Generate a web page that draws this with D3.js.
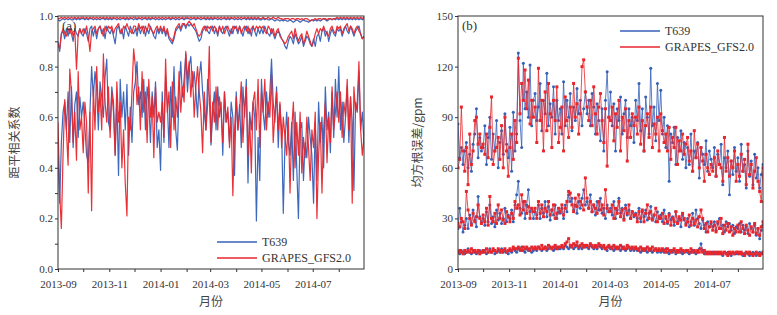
<!DOCTYPE html>
<html>
<head>
<meta charset="utf-8">
<script src="https://cdn.jsdelivr.net/npm/d3@7"></script>
<style>
  body { margin: 0; background: #fff; }
</style>
</head>
<body>
<svg id="chart" width="777" height="315"></svg>
<script>
// one sample every 2 days starting 2013-09-01 (one line per month)
const startDate = new Date(2013, 8, 1)
const stepDays = 2

// (a) anomaly correlation, three levels
const acTopT639 = [
  .985,.98,.985,.99,.985,.99,.985,.99,.985,.985,.99,.985,.99,.985,.99,
  .99,.985,.99,.985,.99,.99,.985,.99,.985,.99,.985,.99,.99,.985,.99,.985,
  .99,.985,.99,.99,.985,.99,.985,.99,.99,.985,.99,.985,.99,.99,.985,
  .99,.985,.99,.99,.985,.99,.99,.985,.99,.985,.99,.99,.985,.99,.985,
  .99,.985,.99,.985,.99,.99,.985,.99,.99,.985,.99,.985,.99,.99,.985,.99,
  .99,.99,.985,.99,.99,.985,.99,.99,.985,.99,.99,.985,.99,.985,
  .99,.985,.99,.99,.985,.99,.985,.99,.99,.985,.99,.985,.99,.99,.985,
  .99,.985,.99,.985,.99,.99,.985,.99,.985,.99,.985,.99,.985,.99,.985,
  .985,.99,.985,.99,.985,.985,.99,.985,.98,.985,.985,.98,.985,.98,.985,.98,
  .98,.985,.98,.975,.98,.985,.98,.975,.98,.985,.98,.98,.975,.98,.985,
  .98,.985,.98,.985,.98,.985,.99,.985,.98,.985,.99,.985,.99,.985,.99,
  .985,.99,.985,.99,.985,.99,.985,.99,.985,.99,.985,.99,.985,.99,.985,.99
]
const acTopGrapes = [
  .99,.99,.995,.99,.995,.99,.995,.99,.995,.99,.995,.99,.995,.99,.995,
  .995,.99,.995,.99,.995,.99,.995,.99,.995,.99,.995,.99,.995,.99,.995,.99,
  .995,.99,.995,.99,.995,.99,.995,.99,.995,.99,.995,.99,.995,.99,.995,
  .995,.99,.995,.99,.995,.99,.995,.99,.995,.99,.995,.99,.995,.99,.995,
  .99,.995,.99,.995,.99,.995,.99,.995,.99,.995,.99,.995,.99,.995,.99,.995,
  .995,.99,.995,.99,.995,.99,.995,.99,.995,.99,.995,.99,.995,.99,
  .995,.99,.995,.99,.995,.99,.995,.99,.995,.99,.995,.99,.995,.99,.995,
  .99,.995,.99,.995,.99,.995,.99,.995,.99,.995,.99,.995,.99,.995,.99,
  .99,.995,.99,.99,.995,.99,.99,.995,.99,.99,.995,.99,.99,.985,.99,.99,
  .99,.985,.99,.99,.985,.99,.99,.985,.99,.985,.99,.99,.985,.98,.985,
  .985,.99,.985,.99,.99,.985,.99,.99,.985,.99,.99,.985,.99,.99,.995,
  .99,.995,.99,.995,.99,.995,.99,.995,.99,.995,.99,.995,.99,.995,.99,.995
]
const acMidT639 = [
  .90,.86,.93,.94,.91,.95,.92,.95,.93,.90,.95,.93,.92,.95,.93,
  .92,.95,.93,.90,.95,.96,.92,.95,.91,.95,.96,.93,.95,.91,.96,.94,
  .93,.95,.92,.89,.95,.96,.93,.95,.91,.96,.94,.92,.96,.94,.93,
  .95,.92,.96,.93,.95,.96,.92,.95,.93,.96,.94,.92,.91,.95,.93,
  .95,.93,.95,.92,.94,.91,.90,.89,.91,.94,.95,.96,.94,.96,.97,.95,
  .97,.96,.97,.96,.95,.94,.92,.90,.91,.94,.95,.96,.94,.93,
  .95,.96,.93,.95,.92,.96,.94,.93,.95,.96,.94,.92,.95,.93,.96,
  .95,.93,.96,.94,.92,.95,.96,.93,.95,.92,.96,.94,.92,.95,.93,
  .95,.93,.96,.94,.93,.92,.95,.93,.91,.93,.94,.93,.91,.90,.88,.87,
  .90,.92,.91,.89,.93,.91,.89,.90,.92,.88,.90,.92,.91,.89,.88,
  .91,.88,.92,.93,.90,.94,.95,.92,.94,.90,.93,.95,.93,.92,.95,
  .94,.95,.92,.94,.96,.94,.93,.96,.94,.92,.94,.95,.96,.93,.91,.92
]
const acMidGrapes = [
  .89,.87,.93,.95,.93,.92,.95,.93,.95,.92,.94,.79,.93,.95,.93,
  .95,.93,.96,.92,.86,.94,.95,.96,.93,.95,.96,.94,.92,.96,.94,.96,
  .95,.96,.93,.95,.96,.97,.94,.93,.96,.95,.97,.95,.94,.93,.96,
  .96,.94,.97,.95,.96,.93,.96,.94,.97,.95,.94,.93,.95,.96,.94,
  .96,.94,.96,.93,.95,.92,.91,.90,.92,.95,.96,.97,.95,.97,.97,.96,
  .97,.98,.97,.96,.97,.95,.93,.92,.93,.95,.96,.94,.96,.95,
  .96,.94,.96,.95,.93,.96,.94,.96,.93,.95,.96,.94,.93,.96,.95,
  .96,.94,.96,.93,.95,.96,.94,.96,.93,.95,.96,.94,.96,.95,.96,
  .95,.96,.94,.93,.96,.95,.93,.95,.92,.94,.95,.92,.91,.90,.89,.90,
  .92,.93,.94,.91,.95,.92,.90,.92,.93,.89,.91,.94,.92,.90,.88,
  .90,.93,.95,.93,.95,.94,.96,.94,.93,.92,.95,.96,.94,.93,.96,
  .95,.96,.93,.95,.96,.97,.94,.96,.95,.93,.95,.96,.94,.93,.91,.92
]
const acLowT639 = [
  .45,.26,.50,.62,.66,.55,.70,.50,.72,.48,.65,.70,.52,.68,.60,
  .66,.56,.45,.42,.62,.80,.68,.78,.72,.55,.74,.68,.60,.76,.83,.58,
  .55,.72,.66,.45,.68,.37,.75,.60,.70,.55,.73,.45,.64,.50,.70,
  .74,.82,.65,.70,.60,.75,.55,.72,.66,.50,.70,.60,.74,.48,.55,
  .39,.70,.50,.76,.66,.48,.72,.60,.80,.55,.47,.70,.82,.68,.75,.85,
  .70,.80,.84,.72,.78,.70,.60,.76,.82,.70,.62,.55,.75,.68,
  .49,.62,.70,.55,.72,.60,.66,.45,.70,.58,.62,.50,.66,.60,.37,
  .70,.55,.65,.48,.72,.60,.75,.34,.62,.55,.66,.60,.19,.52,.35,
  .75,.62,.55,.70,.60,.70,.83,.66,.58,.72,.48,.65,.55,.22,.50,.62,
  .50,.45,.58,.35,.62,.40,.20,.55,.58,.35,.50,.44,.60,.52,.45,
  .26,.58,.35,.66,.50,.60,.40,.72,.55,.62,.46,.70,.52,.75,.60,
  .80,.55,.66,.50,.60,.72,.50,.68,.58,.31,.66,.62,.78,.55,.62,.50
]
const acLowGrapes = [
  .58,.30,.16,.45,.67,.55,.41,.79,.70,.50,.62,.43,.78,.55,.60,
  .46,.66,.58,.30,.62,.23,.72,.55,.80,.62,.70,.55,.85,.66,.58,.72,
  .52,.70,.62,.45,.74,.58,.66,.40,.55,.34,.21,.60,.55,.70,.87,
  .80,.65,.72,.55,.78,.62,.70,.50,.75,.60,.68,.44,.72,.58,.62,
  .58,.66,.52,.83,.62,.70,.48,.74,.55,.68,.60,.78,.62,.72,.66,.86,
  .75,.82,.68,.78,.60,.72,.80,.70,.62,.46,.70,.55,.65,.88,
  .50,.66,.58,.72,.55,.68,.62,.50,.70,.58,.64,.48,.60,.29,.55,
  .68,.55,.62,.74,.50,.64,.72,.45,.60,.38,.66,.70,.55,.75,.48,
  .70,.62,.75,.55,.66,.60,.77,.50,.62,.70,.55,.66,.48,.60,.52,.45,
  .60,.30,.55,.66,.40,.58,.45,.62,.38,.52,.44,.60,.48,.35,.55,
  .48,.62,.20,.45,.58,.30,.55,.66,.42,.60,.50,.72,.55,.62,.70,
  .58,.70,.52,.66,.60,.75,.55,.68,.26,.72,.62,.66,.82,.55,.45,.52
]

// (b) RMSE (gpm), three levels
const rmseHighT639 = [
  86,66,72,62,70,75,60,68,58,74,80,95,66,78,70,
  72,85,62,78,90,65,80,70,88,60,75,82,68,92,74,66,
  84,58,93,70,80,128,88,72,122,95,105,90,121,85,100,
  104,88,96,110,82,100,92,116,85,98,90,108,80,100,88,
  95,80,111,85,100,90,104,82,96,88,107,92,100,85,95,105,
  92,100,85,104,96,80,98,88,76,95,70,100,117,90,
  105,85,98,70,95,88,102,80,92,100,78,95,85,90,75,
  100,88,110,82,95,70,102,90,80,119,85,96,76,110,88,
  106,80,90,72,85,52,80,75,84,62,78,70,82,65,75,60,
  72,62,80,58,70,66,75,54,72,68,62,76,58,70,65,
  60,72,55,68,62,74,50,66,60,70,44,64,56,72,58,
  66,52,74,58,62,48,70,55,64,50,68,54,60,48,56,62
]
const rmseHighGrapes = [
  60,65,96,70,58,72,50,80,62,70,88,90,74,80,72,
  74,68,80,66,84,102,62,70,72,78,65,85,60,90,70,55,
  72,80,65,88,75,125,92,110,100,118,95,112,86,100,90,
  96,75,119,88,100,70,105,82,110,92,72,100,88,108,75,
  84,96,70,102,88,78,96,84,110,90,98,80,92,120,124,105,
  96,88,100,85,108,92,80,96,104,88,75,95,61,90,
  88,96,76,92,84,100,70,90,82,95,64,88,78,92,85,
  90,80,96,74,88,70,85,92,78,96,72,86,80,90,70,
  92,82,75,80,70,84,65,78,72,84,62,76,70,80,68,74,
  78,64,70,58,82,66,74,60,72,64,52,68,60,56,62,
  58,66,55,70,62,60,52,78,58,66,55,64,60,70,52,
  62,55,68,58,65,50,74,56,62,48,58,66,52,46,40,60
]
const rmseMidT639 = [
  24,36,28,22,26,30,24,32,27,35,29,25,43,31,28,
  30,26,34,28,38,27,31,25,35,29,33,27,30,36,28,32,
  30,35,28,38,44,52,36,33,40,30,38,47,34,36,30,
  34,32,38,30,36,33,40,31,37,29,35,32,38,30,34,
  33,36,30,38,34,44,40,42,35,38,33,40,36,42,47,38,
  40,36,44,34,38,32,40,35,42,33,36,30,38,34,
  36,32,40,30,35,42,33,36,30,38,32,35,30,34,31,
  33,30,36,28,34,31,35,29,33,37,30,32,28,34,30,
  32,28,35,30,27,33,29,31,26,34,28,30,25,32,29,27,
  30,25,28,33,26,35,30,27,24,29,26,22,28,25,27,
  25,28,23,27,30,24,26,22,28,25,27,23,26,21,25,
  24,27,22,26,23,25,21,27,24,22,26,20,24,18,23,26
]
const rmseMidGrapes = [
  27,25,30,28,24,46,35,30,26,33,28,31,38,30,27,
  32,28,36,26,43,30,28,33,27,38,30,35,29,27,34,31,
  28,33,30,40,36,38,32,44,35,40,33,37,30,36,34,
  36,30,40,33,38,31,36,34,40,32,35,38,30,33,36,
  34,38,32,36,40,46,45,38,34,42,37,44,40,38,35,54,
  42,36,40,34,38,36,33,40,35,38,32,47,36,34,
  34,38,30,36,33,40,31,35,29,36,33,38,30,34,32,
  32,28,34,30,35,28,33,38,30,34,29,32,36,28,31,
  30,33,27,31,28,32,26,30,28,34,27,31,29,33,30,26,
  28,32,26,30,27,29,25,31,35,30,24,27,22,25,28,
  23,26,22,28,24,30,21,26,23,27,22,25,20,24,22,
  26,22,28,24,21,26,23,20,25,22,27,21,24,20,25,28
]
const rmseLowT639 = [
  10,9,11,10,9,10,12,10,9,11,10,9,10,11,10,
  10,11,9,10,12,10,11,9,10,11,10,12,10,11,10,9,
  11,10,12,11,10,12,11,13,11,10,12,11,12,10,11,
  12,11,13,12,11,12,13,11,12,13,12,11,12,13,12,
  12,13,12,14,13,12,13,14,12,13,14,12,13,12,14,13,
  13,12,14,13,12,13,12,14,13,12,13,12,11,13,
  12,13,11,12,13,12,11,13,12,11,12,13,11,12,11,
  12,11,12,10,11,12,11,10,12,11,10,11,12,10,11,
  10,11,10,12,10,9,11,10,11,9,10,11,10,9,10,11,
  10,9,10,11,10,9,10,12,15,11,9,10,9,10,9,
  10,9,10,9,10,9,8,10,9,10,9,8,10,9,9,
  9,10,9,8,9,10,9,8,9,10,9,8,9,10,9,10
]
const rmseLowGrapes = [
  10,11,10,9,11,10,11,10,12,10,11,10,11,9,10,
  11,10,12,10,11,10,12,11,10,12,11,10,11,12,10,11,
  12,11,13,12,12,13,12,11,13,12,13,12,11,13,12,
  13,12,13,12,14,12,13,12,14,13,12,13,14,12,13,
  13,14,13,15,16,18,14,13,15,14,16,13,14,15,13,14,
  14,13,15,14,13,14,13,15,14,13,14,12,13,14,
  13,12,14,13,12,13,14,12,13,12,14,13,12,13,12,
  13,12,11,13,12,11,12,13,11,12,13,11,12,11,12,
  11,12,11,10,12,11,10,11,12,10,11,10,12,11,10,11,
  11,10,12,10,11,10,11,10,12,10,11,9,10,9,10,
  9,10,9,10,9,10,9,10,9,8,10,9,10,9,10,
  10,9,10,9,8,10,9,10,9,8,9,10,9,8,9,10
]

const modelNames = ["T639", "GRAPES_GFS2.0"]
const acTicks = [0, 0.2, 0.4, 0.6, 0.8, 1.0]
const rmseTicks = [0, 30, 60, 90, 120, 150]

const blue = "#3460b8"
const red = "#e8262c"
const serif = "'Liberation Serif', 'Times New Roman', serif"
const cjk = "'Noto Sans CJK SC', sans-serif"

const toSeries = vals => vals.map((v, i) => ({date: d3.timeDay.offset(startDate, i * stepDays), value: v}))

const svg = d3.select("#chart")

function drawPanel(cfg) {
  const {left, right, top, bottom} = cfg
  const g = svg.append("g")

  const x = d3.scaleTime()
    .domain([startDate, new Date(2014, 7, 31)])
    .range([left, right])
  const y = d3.scaleLinear()
    .domain(cfg.yDomain)
    .range([bottom, top])

  // x axis: monthly ticks, label every other month
  const months = d3.timeMonth.range(startDate, new Date(2014, 8, 1))
  const xAxis = d3.axisBottom(x)
    .tickValues(months)
    .tickSize(3)
    .tickFormat(d => d.getMonth() % 2 === 0 ? d3.timeFormat("%Y-%m")(d) : "")
  g.append("g")
    .attr("transform", `translate(0,${bottom})`)
    .call(xAxis)
    .call(a => a.select(".domain").remove())
    .call(a => a.selectAll("text").attr("dy", "1.15em"))

  const yAxis = d3.axisLeft(y)
    .tickValues(cfg.yTickValues)
    .tickSize(3)
    .tickFormat(d => cfg.yLabels.includes(d) ? cfg.yFormat(d) : "")
  g.append("g")
    .attr("transform", `translate(${left},0)`)
    .call(yAxis)
    .call(a => a.select(".domain").remove())
    .call(a => a.selectAll("text").attr("x", -5))

  g.selectAll(".tick line").attr("stroke", "#333")
  g.selectAll(".tick text")
    .style("font-family", serif)
    .style("font-size", "11px")
    .style("fill", "#333")

  // data
  const line = d3.line().x(d => x(d.date)).y(d => y(d.value))
  const clipId = "clip-" + cfg.tag
  g.append("clipPath").attr("id", clipId)
    .append("rect").attr("x", left).attr("y", top).attr("width", right - left).attr("height", bottom - top)
  const plot = g.append("g").attr("clip-path", `url(#${clipId})`)

  cfg.series.forEach(s => {
    const data = toSeries(s.values)
    plot.append("path")
      .datum(data)
      .attr("d", line)
      .attr("fill", "none")
      .attr("stroke", s.color)
      .attr("stroke-width", cfg.lineWidth)
      .attr("stroke-opacity", cfg.markers ? 0.8 : 0.95)
      .attr("stroke-linejoin", "round")
    if (cfg.markers) {
      if (s.color === red) {
        plot.append("g").selectAll("rect")
          .data(data)
          .join("rect")
            .attr("x", d => x(d.date) - 1.5)
            .attr("y", d => y(d.value) - 1.5)
            .attr("width", 3)
            .attr("height", 3)
            .attr("fill", red)
      } else {
        plot.append("g").selectAll("circle")
          .data(data)
          .join("circle")
            .attr("cx", d => x(d.date))
            .attr("cy", d => y(d.value))
            .attr("r", 1.5)
            .attr("fill", blue)
      }
    }
  })

  // frame
  g.append("rect")
    .attr("x", left).attr("y", top)
    .attr("width", right - left).attr("height", bottom - top)
    .attr("fill", "none").attr("stroke", "#333").attr("stroke-width", 1)

  // panel tag
  g.append("text")
    .attr("x", left + 4).attr("y", top + 14)
    .style("font-family", serif)
    .style("font-size", "13px")
    .style("fill", "#333")
    .text(`(${cfg.tag})`)

  // axis titles
  g.append("text")
    .attr("x", (left + right) / 2).attr("y", 306)
    .attr("text-anchor", "middle")
    .style("font-family", cjk)
    .style("font-size", "12px")
    .style("fill", "#444")
    .text("月份")
  g.append("text")
    .attr("transform", `translate(${cfg.yTitleX},${(top + bottom) / 2}) rotate(-90)`)
    .attr("text-anchor", "middle")
    .style("font-family", cjk)
    .style("font-size", "12px")
    .style("fill", "#444")
    .text(cfg.yTitle)

  // legend
  const lg = g.append("g")
  modelNames.forEach((name, i) => {
    const ly = cfg.legendY + i * 16
    lg.append("line")
      .attr("x1", cfg.legendX).attr("x2", cfg.legendX + 40)
      .attr("y1", ly).attr("y2", ly)
      .attr("stroke", i === 0 ? blue : red)
      .attr("stroke-width", 1.3)
    lg.append("text")
      .attr("x", cfg.legendX + 45).attr("y", ly + 4)
      .style("font-family", serif)
      .style("font-size", "12px")
      .style("fill", "#333")
      .text(name)
  })
}

drawPanel({
  tag: "a",
  left: 58, right: 364, top: 16, bottom: 269,
  yDomain: [0, 1],
  yTickValues: d3.range(0, 11).map(i => i / 10),
  yLabels: acTicks,
  yFormat: d3.format(".1f"),
  yTitle: "距平相关系数",
  yTitleX: 19,
  lineWidth: 1.2,
  markers: false,
  legendX: 217, legendY: 242,
  series: [
    {values: acLowT639, color: blue},
    {values: acLowGrapes, color: red},
    {values: acMidT639, color: blue},
    {values: acMidGrapes, color: red},
    {values: acTopT639, color: blue},
    {values: acTopGrapes, color: red}
  ]
})

drawPanel({
  tag: "b",
  left: 458, right: 763, top: 16, bottom: 269,
  yDomain: [0, 150],
  yTickValues: rmseTicks,
  yLabels: rmseTicks,
  yFormat: d3.format("d"),
  yTitle: "均方根误差/gpm",
  yTitleX: 422,
  lineWidth: 1,
  markers: true,
  legendX: 620, legendY: 31,
  series: [
    {values: rmseLowT639, color: blue},
    {values: rmseLowGrapes, color: red},
    {values: rmseMidT639, color: blue},
    {values: rmseMidGrapes, color: red},
    {values: rmseHighT639, color: blue},
    {values: rmseHighGrapes, color: red}
  ]
})
</script>
</body>
</html>
